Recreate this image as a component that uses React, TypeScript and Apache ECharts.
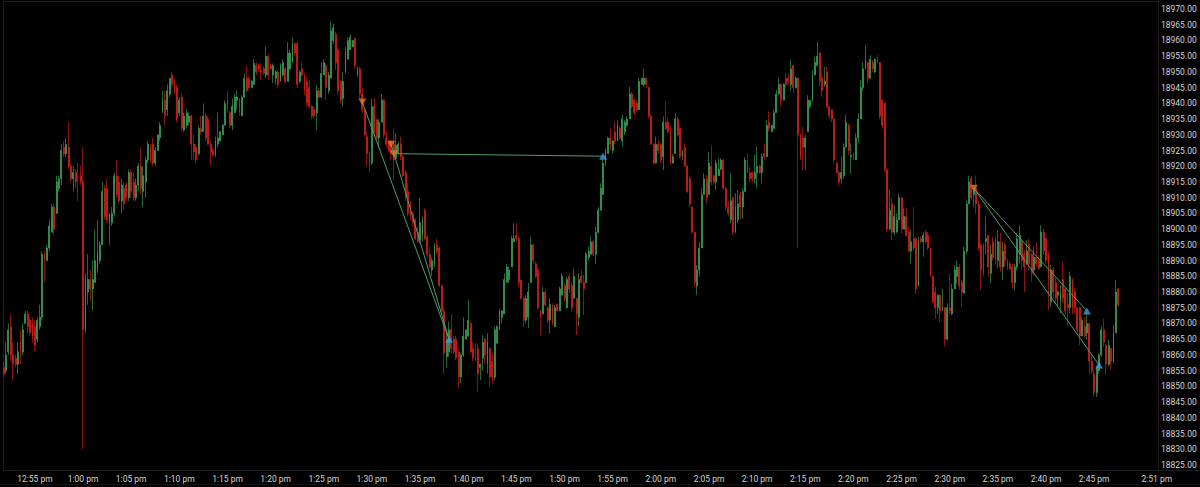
import React, { useEffect, useRef } from "react";
import * as echarts from "echarts";

// Each row: open, high, low, close (15-second bars)
const barsA = [
[18856,18858,18853,18854],[18855,18864,18854,18860],[18861,18870,18860,18868],[18869,18873,18858,18860],[18860,18864,18852,18857],[18859,18860,18856,18857],[18857,18864,18854,18861],[18864,18868,18857,18861],[18861,18870,18860,18868],[18870,18874,18870,18873],
[18873,18874,18867,18869],[18871,18872,18866,18867],[18870,18872,18864,18866],[18869,18871,18861,18863],[18865,18872,18864,18871],[18869,18876,18868,18872],[18872,18893,18871,18892],[18892,18893,18883,18890],[18890,18895,18890,18894],[18894,18903,18893,18901],
[18899,18908,18899,18907],[18907,18908,18898,18900],[18905,18917,18905,18915],[18913,18917,18912,18916],[18916,18927,18914,18925],[18926,18928,18923,18924],[18924,18929,18923,18927],[18926,18934,18919,18920],[18920,18921,18915,18916],[18916,18920,18912,18918],
[18918,18919,18913,18915],[18916.5,18921,18909,18916.4],[18917,18920,18914,18915],[18915,18926,18830,18868],[18868,18886,18867,18884],[18880,18892,18876,18884],[18884,18887,18877,18881],[18881,18890,18874,18884],[18883,18900,18883,18890],[18887,18903,18886,18893],
[18890,18896,18889,18895],[18895,18915,18895,18912],[18913,18914,18903,18904],[18913,18916,18902,18903],[18902,18905,18895,18905],[18902,18907,18901,18905],[18905,18918,18904,18917],[18917,18922,18910,18911],[18915,18917,18908,18909],[18909,18916,18905,18914],
[18913,18915,18906,18908],[18914,18915,18909,18910],[18910,18919,18909,18918],[18918,18919,18910,18912],[18915,18918,18909,18910],[18910,18916,18909,18914],[18914,18921,18912,18920],[18920,18926,18911,18913],[18912,18920,18907,18917],[18915,18923,18910,18922],
[18922,18928,18921,18927],[18926,18927,18921,18922],[18927,18929,18920,18921],[18921,18926,18920,18925],[18925,18930,18925,18930],[18929,18934,18928,18933],
];
const barsB = [
[18937,18944,18937,18941],[18941,18944,18933,18936],[18938,18946,18936,18944],[18943,18948,18942,18948],[18949,18950,18945,18946],[18947,18948,18943,18944],[18945,18946,18934,18935],[18937,18942,18936,18941],[18942,18943,18931,18932],[18931.5,18937,18931,18936],
[18933,18938,18932,18937],[18934,18937,18933,18936],[18936,18936.5,18922,18927],[18927,18930,18922,18924.6],[18926,18927,18921,18922],[18924,18933,18923.6,18932],[18932,18936,18930,18931],[18931,18940,18931,18936],[18936,18937,18928,18929],[18935,18936,18926.7,18927],
[18927,18928,18920,18924.6],[18925,18925.7,18923,18923.5],[18923.5,18929.4,18923,18928],[18927,18937,18926,18929],[18928,18931,18928,18931],[18930,18933.6,18930,18933],[18933,18941,18933,18940],[18941,18944,18937,18938],[18937,18937.5,18932,18933],[18933,18941.6,18931.5,18939],
[18937,18943,18937,18942],[18941,18944,18938,18942],[18941,18941.6,18936,18937],[18936,18942.6,18936,18942],[18942,18949.5,18941.6,18948],[18948,18952,18943.7,18944],[18948,18948.5,18944.8,18945],[18945,18947.4,18945,18947],[18946,18954,18946,18952.7],[18952,18953,18949,18950],
[18952,18952.7,18950,18951],[18950.5,18952.7,18947.4,18950],[18951,18951.7,18949,18949.5],[18949,18958,18948,18955],[18955,18955.5,18947.4,18949],[18952,18952.7,18950.6,18951],[18949,18952.7,18946.4,18952],[18948,18950.6,18946,18950],[18950,18950.6,18944.8,18946],[18947,18952.7,18947,18952],
[18949,18954,18948.5,18953],[18951,18951.7,18946.4,18947],[18947,18959.6,18947,18956],[18951,18957,18950.6,18956],[18953,18960.7,18952.7,18959],[18959,18959.5,18955,18956],[18959,18959.5,18944.8,18946],[18947,18950.6,18946.4,18950],[18951,18953,18948.5,18949],[18949,18949.5,18942.6,18944],
[18947,18948.5,18939,18940],[18945,18947.4,18938.4,18939],[18939,18939.5,18935,18936],[18938,18939,18935,18936],[18937,18945.8,18931.5,18944],[18944,18944.8,18941.6,18942],
];
const barsC = [
[18942,18953,18941.6,18949.5],[18949,18954,18949,18953],[18952,18952.7,18941,18945],[18944,18950,18943,18949],[18948,18966,18948,18963],[18960,18965.4,18959,18964],[18962,18962.8,18950.6,18953],[18957,18957.5,18942.6,18944],[18947,18947.5,18940,18941],[18941.6,18950,18939,18947],
[18950,18958,18949.5,18956],[18954,18961,18954,18960],[18957,18962,18957,18961],[18958,18960,18958,18960],[18960.7,18961,18951,18952],[18949,18951.7,18948.5,18951],[18951,18951.7,18941.6,18943],[18943,18944.8,18937,18938],[18938,18938.5,18929.4,18930],[18929.4,18930.5,18920,18924],
[18924.6,18924.8,18918,18920],[18921,18941.6,18920.4,18939],[18939,18941.6,18929.4,18931],[18934.7,18935,18928.3,18929],[18929,18935,18926,18934],[18934,18943,18934,18941],[18941,18941.5,18929,18930],[18929,18931,18926,18927],[18928,18928.3,18924.6,18925],[18928,18928.2,18922,18924],
[18927,18932,18915.6,18922],[18922.5,18930.5,18922.5,18926.7],[18924,18927.8,18924,18927],[18927,18929.4,18922,18923],[18923,18923.5,18916.7,18917],[18918,18918.8,18909,18910],[18912,18914.6,18904,18905],[18908,18909,18903,18904],[18905,18905.5,18900.8,18902],[18903,18903.5,18896.5,18897],
[18899,18900.8,18895.5,18896],[18896.5,18910,18895.5,18902],[18898,18904,18896,18903],[18906,18906.6,18896.5,18897],[18897.5,18898,18891,18892],[18892,18894.4,18887.5,18888],[18887,18891,18885,18890],[18889,18895.5,18888,18895],[18895,18897,18892,18893],[18894,18894.5,18881.7,18882],
[18882,18882.5,18873,18874],[18874,18875,18854,18860.5],[18859.4,18867,18856,18864.7],[18861,18870.6,18859.4,18868],[18868,18873,18860.5,18862],[18865,18866,18860.5,18861],[18865,18866,18858.4,18859],[18861,18861.6,18849.4,18853],[18853,18860.5,18851,18860],[18860,18872,18859.4,18866],
[18865,18868,18865,18868],[18866,18877.5,18865.8,18871],[18870,18870.6,18860.5,18861],[18862,18864,18858,18859],[18861,18863.7,18857.9,18860.5],[18862,18863.7,18848.3,18854],[18856,18857.3,18852,18857],
];
const barsD = [
[18859,18866.3,18855,18864],[18865,18865.3,18857,18860],[18857,18866.9,18854,18864],[18862,18862.6,18850,18853],[18858,18860.5,18851,18853],[18853,18869,18852,18868],[18863.7,18869.5,18863.7,18869],[18868,18874.8,18868,18874],[18872,18874.3,18870,18874],[18873,18886,18873,18884],
[18883,18889,18883,18888],[18884,18888,18883,18887],[18888,18898,18888,18897],[18896,18901.9,18896,18897],[18898,18901.9,18896,18897],[18897,18897.6,18881.7,18883],[18883.8,18884,18877.5,18878],[18878,18878.5,18869,18871],[18871,18879,18870,18878],[18872,18882.8,18868.5,18880],
[18883,18897.6,18882.8,18895],[18895,18895.5,18889,18890],[18889,18889.7,18884.4,18885],[18887,18887.5,18874.3,18875],[18874,18874.5,18866.3,18872],[18873,18881.7,18873,18880],[18880,18881,18875.4,18876],[18875,18875.4,18870,18871],[18871,18878,18866.9,18876],[18876,18876.4,18869.5,18870],
[18869,18875.9,18869,18875],[18876,18876.4,18873.8,18874],[18874,18881.7,18874,18881],[18879,18886,18879,18885],[18882,18882.8,18877,18878],[18875,18884.9,18874.8,18884],[18885,18886,18879.6,18881],[18882,18883.3,18873.8,18875],[18878,18887.5,18878,18885],[18878,18878.2,18866.3,18873],
[18872,18886,18869,18884],[18885,18887,18882.8,18883],[18883,18885.4,18872.7,18881],[18883,18892.8,18882.8,18892],[18891,18894.4,18890,18893],[18892,18897.6,18892,18896],[18896,18896.5,18891.3,18892],[18892,18900.8,18889,18899],[18899,18907,18898.7,18906],[18906,18914.6,18906,18913],
[18911,18922.5,18910.9,18921],[18921,18925.7,18920,18925],[18924,18929.4,18924,18929],[18929,18932,18925,18927],[18925,18928.4,18924,18928],[18931,18934,18927,18928],[18928,18934.7,18928,18933],[18932,18932.6,18928.4,18929],[18928,18936.3,18926.2,18935],[18931,18934.7,18930,18934],
[18933,18935.8,18932.6,18935],[18935,18945.3,18935,18943],[18943,18943.7,18938.4,18939],[18941,18941.5,18936.3,18937],[18940,18941,18937.4,18938],[18938,18948,18938,18947],
];
const barsE = [
[18946,18948,18945.8,18948],[18946,18951,18945.3,18948],[18948,18948.3,18944.8,18946],[18945,18945.3,18935.2,18936],[18936,18936.4,18926.8,18927],[18927,18927.3,18920.4,18921],[18921,18929.4,18920.9,18927],[18927,18928.4,18924,18925],[18927,18927.3,18920.9,18922],[18923,18935.8,18918.8,18934],
[18934,18940.5,18931.5,18932],[18934,18935.2,18930.5,18931],[18932,18932.6,18920.4,18921],[18921,18924,18920.9,18923],[18924,18936.8,18924,18935],[18935,18935.8,18929.4,18930],[18932,18932.4,18922.5,18923],[18923,18925.2,18922,18925],[18926,18927.3,18919.9,18920],[18920,18920.3,18911.4,18912],
[18916,18916.7,18907,18908],[18907,18907.3,18898.7,18899],[18899,18899.3,18881.7,18883],[18882,18888.6,18879,18887],[18887,18896,18884.9,18894],[18894,18913,18894,18911],[18911,18917.8,18911,18916],[18916,18917.2,18908.2,18910],[18911,18924.6,18911,18921],[18920,18926.8,18914,18915],
[18917,18917.2,18914,18915],[18915,18922,18912.5,18921],[18917,18922.5,18917,18919],[18919,18922.5,18919,18922],[18922,18922.3,18912.5,18913],[18913,18913.3,18906,18907],[18907,18909,18904,18905],[18903,18917.8,18901.9,18909],[18910,18910.3,18898,18899],[18899,18911.4,18898.7,18907],
[18903,18912.5,18901.9,18908],[18911,18912,18903,18907],[18907,18913,18903.4,18912],[18912,18923,18912,18922],[18922,18924,18917.8,18918],[18918,18919.9,18915,18916],[18918,18918.3,18915,18916],[18916,18923.6,18914.6,18918],[18918,18926.2,18913,18920],[18920,18920.4,18917.8,18918],
[18918,18924,18914.6,18923],[18924,18927.3,18922,18923],[18923,18934.7,18923,18933],[18934,18937.4,18931,18932],[18931,18933,18931,18933],[18932,18937.9,18932,18937],[18937,18944.3,18937,18943],[18943,18948,18942.7,18946],[18946,18946.4,18939,18941],[18941,18946.4,18941,18946],
[18948,18949.6,18944.8,18946],[18948,18949.6,18945.8,18947],[18946,18953.8,18944.3,18951],[18952,18952.2,18943.2,18945],[18945,18948.5,18944.8,18948],[18948,18948.3,18894,18930],[18930,18930.5,18922,18923],
];
const barsF = [
[18929,18932.6,18918.8,18926],[18926,18930,18918.8,18929],[18931,18942.6,18931,18941],[18939,18941,18938.4,18941],[18941,18950.6,18940.5,18949],[18949,18954.8,18949,18953],[18952,18959.6,18952,18955],[18956,18956.4,18945.3,18947],[18948,18949.5,18942,18944],[18946,18951.6,18945.3,18947],
[18950,18951.6,18938.4,18939],[18939,18939.2,18935,18936],[18938,18938.2,18934,18935],[18935,18935.3,18920.9,18922],[18921,18921.4,18917.7,18918],[18918,18918.3,18914,18915],[18916,18923,18914.5,18918],[18917,18927.3,18916,18926],[18926,18936.3,18926,18934],[18933,18933.6,18923.5,18925],
[18923,18927.3,18917.7,18923.5],[18924,18924.3,18922,18922.5],[18922,18930.4,18922,18929],[18929,18936.8,18927.3,18935],[18935,18947.4,18935,18945],[18945,18953.2,18944,18951],[18951,18958.5,18951,18954],[18953,18953.2,18946.3,18948],[18948,18955.3,18948,18954],[18953,18953.8,18950,18951],
[18950,18954.3,18949.5,18954],[18954,18955.3,18952.7,18953],[18953,18953.2,18935,18936],[18941,18941.3,18932,18933],[18940,18940.3,18918,18919],[18919,18919.3,18899,18900],[18900,18912.4,18899.7,18906],[18908,18909.8,18896.5,18899],[18899,18907.6,18898,18904],[18899,18905,18899,18903],
[18903,18911.4,18903,18910],[18910,18910.3,18898.6,18900],[18900,18906.6,18900,18904],[18904,18906.6,18897.6,18898],[18899,18900.8,18892.8,18893],[18893,18899.7,18889,18896],[18897,18907,18893.3,18894],[18897,18897.6,18879.6,18881],[18882,18897.6,18881.7,18896],[18897,18897.6,18895.5,18896],
[18896,18899,18891.2,18898],[18899,18899.7,18895.5,18896],[18898,18899,18893.3,18894],[18894,18894.2,18884.9,18885],[18885,18885.2,18876.4,18877],[18880,18881.7,18871.6,18875],[18875,18879,18873,18879],[18879,18879.2,18870.5,18874],[18874,18881,18874,18875],[18875,18875.3,18862.6,18865],
[18865,18876.4,18864.7,18875],[18875,18885.9,18873,18874],[18873,18882.7,18872.7,18881],[18881,18888.6,18881,18887],[18885,18890,18882.7,18888],[18888,18889,18880.6,18882],
];
const barsG = [
[18883,18883.8,18875.3,18880],[18879.6,18894.4,18879.6,18893],[18893,18909,18892,18908],[18908,18917,18908,18915],[18916,18917,18909,18910],[18911,18914,18907,18913],[18913,18917,18905,18908],[18908,18909,18893,18894],[18895,18895.5,18880.6,18887],[18895,18895.5,18885,18886],
[18896,18904,18892,18897],[18898,18898.1,18885,18888],[18886,18895,18882.8,18892],[18896,18897.6,18890,18891],[18897,18897.6,18888.6,18890],[18890,18899.7,18887.5,18896],[18896,18898.7,18886.5,18888],[18888,18896,18883.8,18893],[18895,18896,18888,18890],[18890,18890.7,18887,18888],
[18889,18890,18887,18887.5],[18888,18889,18881,18883],[18883,18889,18880.6,18888],[18888,18898.7,18887,18897],[18892,18901.3,18889,18898],[18896,18896.5,18887,18890],[18892,18893.4,18880,18888],[18889,18896.5,18888.6,18893],[18895,18897,18887,18889],[18892,18892.5,18883.3,18886],
[18887,18894.4,18885.4,18891],[18891,18895.5,18888,18889],[18890,18891.8,18887,18887.5],[18888,18901.3,18888,18899],[18899,18900.2,18891.8,18893],[18897,18897.3,18889,18890],[18892,18892.8,18874.3,18884],[18877,18888.6,18875.3,18887],[18887,18888,18878,18880],[18883,18884.9,18876.4,18878],
[18879,18880.6,18875.3,18880],[18877,18882.2,18873.2,18880],[18884,18889.6,18876.4,18878],[18881,18881.3,18872.7,18874],[18876,18879.6,18869,18875],[18875,18886.5,18873.2,18885],[18884,18884.4,18873,18875],[18880,18881.2,18873,18875],[18875,18875.2,18866.9,18868],[18875,18875.3,18863,18866],
[18866,18872,18866,18871],[18869,18872,18865.3,18866],[18867,18873.2,18865,18870],[18870,18870.3,18854,18858],[18858,18860.5,18854,18855],[18854,18855.2,18846.7,18848],[18848,18856.3,18846.7,18856],[18855,18860.5,18854,18860],[18860,18869,18859.4,18868],[18868,18871.6,18862.6,18864],
[18863,18863.5,18853.6,18857],[18857,18864.7,18856.3,18863],[18862,18862.3,18855.2,18858],[18858,18869.5,18857.3,18867],[18867,18883.8,18866.9,18880],[18881,18881.2,18875.3,18876],
];
const bars = [...barsA, ...barsB, ...barsC, ...barsD, ...barsE, ...barsF, ...barsG];
const candles = bars.map(([o, h, l, c]) => [o, c, l, h]);

// Bar index (15-second step from 12:51:45) and price of each fill
const sellFills = [[149, 18940.4], [161, 18927], [162, 18924], [403, 18913]];
const buyFills = [[185, 18865], [249, 18923.2], [450, 18874], [455, 18856.8]];
const tradeLines = [
  [[149, 18940.4], [185, 18865]],
  [[161, 18927], [185, 18865]],
  [[162, 18924], [249, 18923.2]],
  [[403, 18913], [450, 18874]],
  [[403, 18913], [455, 18856.8]],
];

const barCount = 480;
const timeCategories: string[] = [];
for (let i = 0; i < barCount; i++) {
  const secs = 12 * 3600 + 51 * 60 + 45 + i * 15;
  const h24 = Math.floor(secs / 3600);
  const h = h24 > 12 ? h24 - 12 : h24;
  const m = Math.floor((secs % 3600) / 60);
  const s = secs % 60;
  const p2 = (n: number) => String(n).padStart(2, "0");
  timeCategories.push(`${h}:${p2(m)}:${p2(s)} pm`);
}
const labelIndex = (i: number) => (i >= 13 && i <= 453 && (i - 13) % 20 === 0) || i === 479;

const FONT = "Roboto";
const GREEN = "#3fae60";
const RED = "#e8231b";
const FRAME = "#1e1e1e";

export default function App() {
  const ref = useRef<HTMLDivElement>(null);
  useEffect(() => {
    document.body.style.margin = "0";
    document.body.style.background = "#000";
    const chart = echarts.init(ref.current!, null, { renderer: "svg" });
    chart.setOption({
      animation: false,
      backgroundColor: "#000000",
      grid: { left: 2.4, right: 42, top: 9, bottom: 22 },
      xAxis: {
        type: "category",
        data: timeCategories,
        boundaryGap: true,
        axisLine: { show: false },
        axisTick: { show: false },
        splitLine: { show: false },
        axisLabel: {
          interval: (i: number) => labelIndex(i),
          formatter: (v: string) => v.replace(/:\d\d /, " "),
          color: "#d4d4d4",
          fontFamily: FONT,
          fontSize: 8.5,
          margin: 9,
          hideOverlap: false,
          showMaxLabel: true,
        },
      },
      yAxis: {
        type: "value",
        position: "right",
        min: 18825,
        max: 18970,
        interval: 5,
        axisLine: { show: false },
        axisTick: { show: false },
        splitLine: { show: false },
        axisLabel: {
          formatter: (v: number) => v.toFixed(2),
          color: "#d4d4d4",
          fontFamily: FONT,
          fontSize: 8.5,
          margin: 3,
          padding: [2, 0, 0, 0],
        },
      },
      graphic: [
        { type: "line", silent: true, shape: { x1: 3, y1: 1.5, x2: 1158, y2: 1.5 }, style: { stroke: FRAME, lineWidth: 1 } },
        { type: "line", silent: true, shape: { x1: 3.5, y1: 1, x2: 3.5, y2: 470 }, style: { stroke: FRAME, lineWidth: 1 } },
        { type: "line", silent: true, shape: { x1: 1158.5, y1: 1, x2: 1158.5, y2: 470 }, style: { stroke: FRAME, lineWidth: 1 } },
        { type: "line", silent: true, shape: { x1: 3, y1: 470.5, x2: 1200, y2: 470.5 }, style: { stroke: FRAME, lineWidth: 1 } },
        { type: "line", silent: true, shape: { x1: 0, y1: 484.5, x2: 1200, y2: 484.5 }, style: { stroke: "#141414", lineWidth: 1 } },
      ],
      series: [
        {
          type: "candlestick",
          data: candles,
          barWidth: 1.4,
          itemStyle: { color: GREEN, color0: RED, borderColor: GREEN, borderColor0: RED, borderWidth: 0.6 },
          z: 2,
        },
        ...tradeLines.map((pts) => ({
          type: "line",
          data: pts,
          symbol: "none",
          lineStyle: { color: "#4f9e63", width: 1 },
          z: 3,
        })),
        {
          type: "scatter",
          data: sellFills,
          symbol: "triangle",
          symbolRotate: 180,
          symbolSize: [8, 7],
          itemStyle: { color: "#e9761c" },
          z: 4,
        },
        {
          type: "scatter",
          data: buyFills,
          symbol: "triangle",
          symbolSize: [8, 7],
          itemStyle: { color: "#3f9be0" },
          z: 4,
        },
      ],
    });
    return () => chart.dispose();
  }, []);
  return <div ref={ref} style={{ position: "fixed", left: 0, top: 0, width: 1200, height: 487, background: "#000" }} />;
}
